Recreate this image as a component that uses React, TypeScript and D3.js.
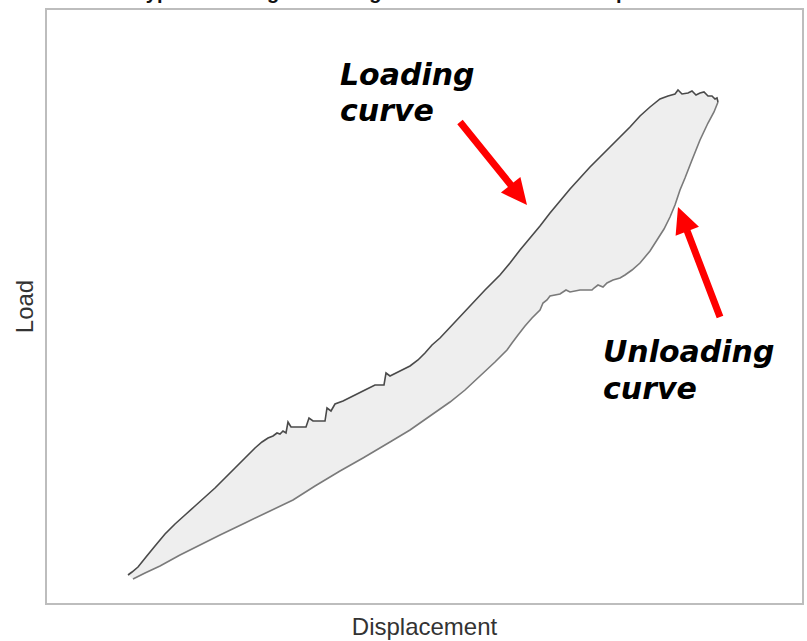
import React from 'react';
import * as d3 from 'd3';

// displacement / load in arbitrary units
const loadingDisp = [-2, 2, 8, 16, 25, 35, 45, 55, 65, 75, 85, 95, 105, 115, 125, 132, 138, 143, 147, 150, 153, 156, 158, 161, 176, 179, 183, 195, 197, 201, 205, 213, 225, 235, 245, 254, 256, 260, 270, 280, 288, 295, 302, 310, 325, 340, 355, 370, 380, 390, 400, 410, 420, 430, 440, 450, 460, 470, 480, 490, 500, 510, 520, 530, 538, 545, 548, 552, 558, 562, 566, 570, 574, 578, 582, 585, 587, 588];
const loadingLoad = [5, 8, 13, 23, 34, 46, 56, 65, 74, 83, 92, 102, 112, 122, 132, 138, 142, 144, 147, 146, 149, 147, 158, 153, 153, 162, 159, 159, 172, 169, 176, 179, 185, 190, 195, 195, 207, 204, 209, 214, 220, 227, 235, 242, 258, 274, 290, 305, 317, 330, 342, 354, 367, 379, 391, 402, 413, 423, 433, 443, 453, 464, 473, 481, 484, 486, 490, 486, 487, 489, 485, 487, 488, 484, 484, 481, 482, 478];

const unloadingDisp = [588, 584, 578, 570, 562, 555, 550, 545, 540, 534, 527, 520, 515, 510, 502, 495, 490, 483, 477, 473, 468, 464, 462, 450, 440, 436, 430, 420, 417, 413, 410, 402, 395, 388, 382, 377, 365, 350, 335, 320, 300, 280, 260, 233, 210, 185, 163, 140, 115, 90, 70, 50, 30, 15, 3];
const unloadingLoad = [478, 468, 457, 440, 420, 402, 390, 375, 363, 351, 340, 329, 323, 317, 310, 305, 302, 300, 297, 293, 295, 292, 290, 290, 288, 290, 286, 284, 280, 277, 270, 262, 254, 245, 237, 230, 218, 204, 190, 178, 164, 150, 138, 122, 109, 94, 80, 69, 57, 45, 35, 25, 14, 7, 1];

const title = 'Typical loading-unloading curve of load versus displacement';
const xLabel = 'Displacement';
const yLabel = 'Load';

const W = 807;
const H = 641;
const plot = { left: 46, right: 803, top: 9, bottom: 604 };

const x = d3.scaleLinear().domain([-84, 673]).range([plot.left, plot.right]);
const y = d3.scaleLinear().domain([-24, 571]).range([plot.bottom, plot.top]);

type Pt = [number, number];
const loading: Pt[] = loadingDisp.map((d, i) => [d, loadingLoad[i]]);
const unloading: Pt[] = unloadingDisp.map((d, i) => [d, unloadingLoad[i]]);

const line = d3.line<Pt>().x(d => x(d[0])).y(d => y(d[1]));

// arrow polygon from (x1,y1) to tip (x2,y2), in pixels
function arrowPath(x1: number, y1: number, x2: number, y2: number) {
  const shaft = 3.5, headLen = 26, headW = 12.5;
  const dx = x2 - x1, dy = y2 - y1;
  const len = Math.hypot(dx, dy);
  const ux = dx / len, uy = dy / len;
  const nx = -uy, ny = ux;
  const bx = x2 - ux * headLen, by = y2 - uy * headLen;
  const p = [
    [x1 + nx * shaft, y1 + ny * shaft],
    [bx + nx * shaft, by + ny * shaft],
    [bx + nx * headW, by + ny * headW],
    [x2, y2],
    [bx - nx * headW, by - ny * headW],
    [bx - nx * shaft, by - ny * shaft],
    [x1 - nx * shaft, y1 - ny * shaft],
  ];
  return 'M' + p.map(q => q.join(',')).join('L') + 'Z';
}

const annoFont = '"DejaVu Sans", Verdana, sans-serif';

export default function App() {
  const area = line([...loading, ...unloading]) + 'Z';
  return (
    <div style={{ position: 'absolute', left: 0, top: 0, width: W, height: H, background: '#fff' }}>
      <svg width={W} height={H} style={{ display: 'block' }}>
        {/* title is cropped off at the top in the original */}
        <text x={425} y={-1} textAnchor="middle" fontFamily="Liberation Sans, Arial, sans-serif"
          fontWeight="bold" fontSize={20} fill="#111">{title}</text>
        <rect x={plot.left} y={plot.top} width={plot.right - plot.left} height={plot.bottom - plot.top}
          fill="#fff" stroke="#bdbdbd" strokeWidth={2} />
        <path d={area} fill="#eeeeee" stroke="none" />
        <path d={line(unloading) || ''} fill="none" stroke="#7a7a7a" strokeWidth={1.6} />
        <path d={line(loading) || ''} fill="none" stroke="#4a4a4a" strokeWidth={1.6} />
        <text x={(plot.left + plot.right) / 2} y={635} textAnchor="middle"
          fontFamily="Liberation Sans, Arial, sans-serif" fontSize={24} fill="#333">{xLabel}</text>
        <text transform={`translate(33, ${(plot.top + plot.bottom) / 2}) rotate(-90)`} textAnchor="middle"
          fontFamily="Liberation Sans, Arial, sans-serif" fontSize={24} fill="#333">{yLabel}</text>
        <g fontFamily={annoFont} fontWeight="bold" fontStyle="italic" fontSize={30} fill="#000">
          <text x={x(210)} y={y(495)}>Loading</text>
          <text x={x(210)} y={y(459)}>curve</text>
          <text x={x(473)} y={y(218)}>Unloading</text>
          <text x={x(473)} y={y(181)}>curve</text>
        </g>
        <path d={arrowPath(x(330), y(458), x(397), y(375))} fill="#ff0000" />
        <path d={arrowPath(x(590), y(263), x(548), y(373))} fill="#ff0000" />
      </svg>
    </div>
  );
}
